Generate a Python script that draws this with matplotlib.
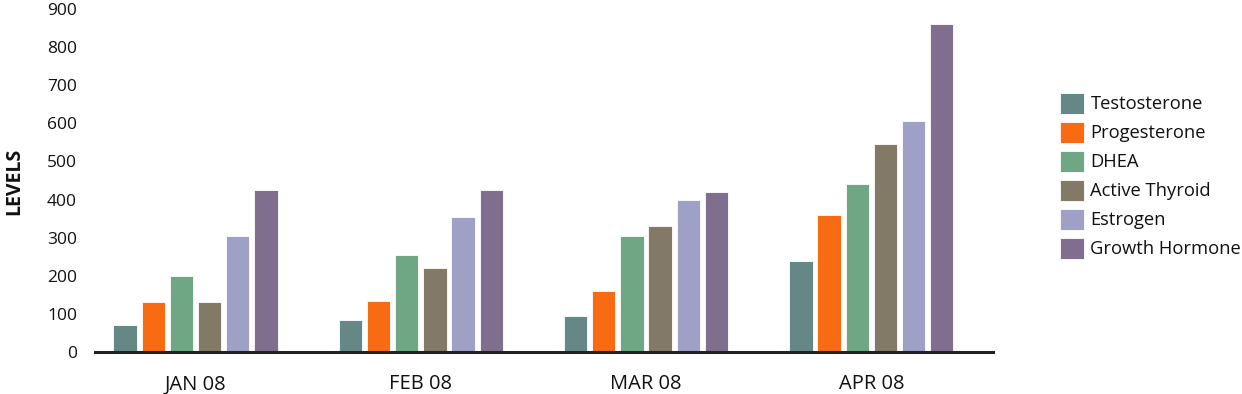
import matplotlib
matplotlib.use("Agg")
import matplotlib.pyplot as plt
import numpy as np

months = ["JAN 08", "FEB 08", "MAR 08", "APR 08"]
series_names = ["Testosterone", "Progesterone", "DHEA", "Active Thyroid", "Estrogen", "Growth Hormone"]
testosterone = [70, 85, 95, 240]
progesterone = [130, 135, 160, 360]
dhea = [200, 255, 305, 440]
active_thyroid = [130, 220, 330, 545]
estrogen = [305, 355, 400, 605]
growth_hormone = [425, 425, 420, 860]
colors = ["#658886", "#F96B13", "#6FA785", "#827966", "#9EA0C5", "#7F6E8E"]
yticks = [0, 100, 200, 300, 400, 500, 600, 700, 800, 900]

plt.rcParams['font.family'] = ['Open Sans', 'DejaVu Sans']

fig = plt.figure(figsize=(12.42, 3.94), dpi=100)
ax = fig.add_axes([95/1242, 1 - 352/394, 898/1242, (352 - 9)/394])

data = [testosterone, progesterone, dhea, active_thyroid, estrogen, growth_hormone]
x = np.arange(len(months))
pitch = 0.125
width = 0.1035
for i, (name, vals, c) in enumerate(zip(series_names, data, colors)):
    off = (i - 2.5) * pitch
    ax.bar(x + off, vals, width, color=c, edgecolor="#FFFFFF", linewidth=0.6, label=name, zorder=2)

ax.set_xlim(-0.446, 3.540)
ax.set_ylim(0, 900)
ax.set_yticks(yticks)
ax.set_yticklabels([str(v) for v in yticks], fontsize=12.5, color="#111111")
ax.set_xticks(x)
ax.set_xticklabels(months, fontsize=14.5, color="#111111")
ax.tick_params(axis='both', length=0)
ax.tick_params(axis='y', pad=13)
ax.tick_params(axis='x', pad=16)
for s in ["top", "right", "left"]:
    ax.spines[s].set_visible(False)
ax.spines["bottom"].set_color("#222222")
ax.spines["bottom"].set_linewidth(2.2)
ax.spines["bottom"].set_zorder(3)

fig.text(14/1242, 1 - 181/394, "LEVELS", rotation=90, fontsize=14, fontweight="bold",
         ha="center", va="center", color="#111111")

handles, labels = ax.get_legend_handles_labels()
leg = fig.legend(handles, labels, loc="upper left", bbox_to_anchor=(1060/1242, 1 - 93/394),
                 frameon=False, fontsize=13.2, handlelength=1.3, handleheight=1.35,
                 handletextpad=0.36, labelspacing=0.46, borderaxespad=0, borderpad=0)
for t in leg.get_texts():
    t.set_color("#111111")

fig.savefig("out.png", dpi=100, facecolor="white")
